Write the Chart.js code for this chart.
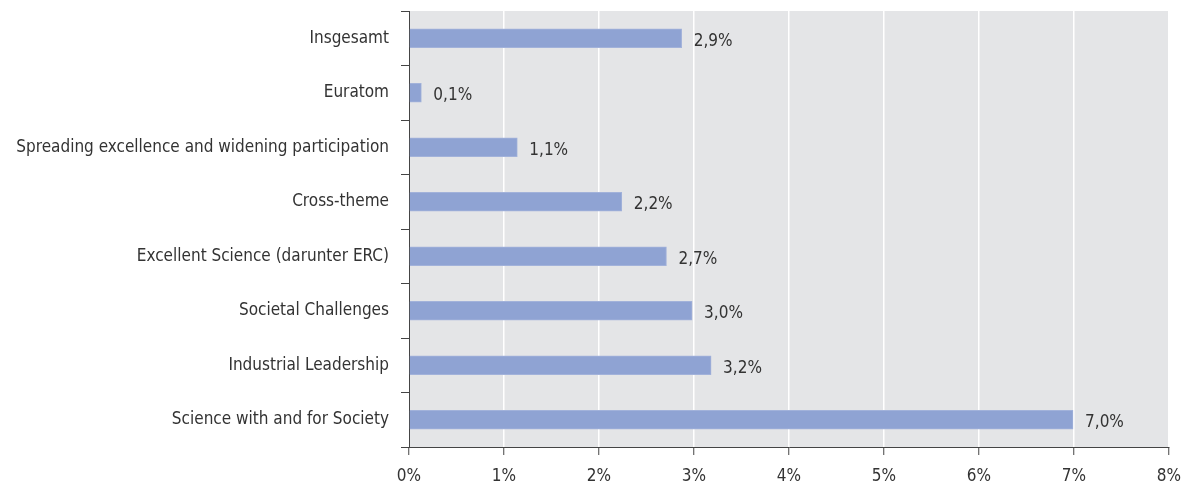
<!DOCTYPE html>
<html lang="de">
<head>
    <meta charset="UTF-8">
    <title>Anteile</title>
    <script src="https://cdn.jsdelivr.net/npm/chart.js"></script>
    <style>
        html, body { margin: 0; padding: 0; background: #fff; }
        #wrap { width: 1191px; height: 489px; }
    </style>
</head>
<body>
    <div id="wrap"><canvas id="chart"></canvas></div>
    <script>
        const categories = [
            "Insgesamt",
            "Euratom",
            "Spreading excellence and widening participation",
            "Cross-theme",
            "Excellent Science (darunter ERC)",
            "Societal Challenges",
            "Industrial Leadership",
            "Science with and for Society"
        ];
        const shares = [2.87, 0.13, 1.14, 2.24, 2.71, 2.98, 3.18, 6.99];
        const xTicks = [0, 1, 2, 3, 4, 5, 6, 7, 8];

        const FONT = "'Liberation Sans Narrow', 'DejaVu Sans Condensed', sans-serif";
        const fmt = v => v.toFixed(1).replace(".", ",") + "%";

        // grey plot background
        const plotBg = {
            id: "plotBg",
            beforeDraw(chart) {
                const a = chart.chartArea, ctx = chart.ctx;
                ctx.save();
                ctx.fillStyle = "#e4e5e7";
                ctx.fillRect(a.left, a.top, a.right - a.left, a.bottom - a.top);
                ctx.restore();
            }
        };

        // value labels right of each bar
        const valueLabels = {
            id: "valueLabels",
            afterDatasetsDraw(chart) {
                const ctx = chart.ctx;
                ctx.save();
                ctx.font = "17px " + FONT;
                ctx.fillStyle = "#333";
                ctx.textBaseline = "middle";
                chart.getDatasetMeta(0).data.forEach((bar, i) => {
                    ctx.fillText(fmt(shares[i]), bar.x + 12, bar.y + 3);
                });
                ctx.restore();
            }
        };

        new Chart(document.getElementById("chart"), {
            type: "bar",
            data: {
                labels: categories,
                datasets: [{
                    data: shares,
                    backgroundColor: "#8fa3d3",
                    borderColor: "#a2b2da",
                    borderWidth: 1,
                    barThickness: 19
                }]
            },
            options: {
                indexAxis: "y",
                responsive: true,
                maintainAspectRatio: false,
                animation: false,
                layout: { padding: { top: 11, right: 22, left: 0, bottom: 0 } },
                plugins: { legend: { display: false }, tooltip: { enabled: false } },
                scales: {
                    x: {
                        min: 0, max: 8,
                        afterBuildTicks: s => { s.ticks = xTicks.map(v => ({ value: v })); },
                        afterFit: s => { s.height = 42; s.paddingLeft = 0; s.paddingRight = 0; },
                        ticks: {
                            callback: v => v + "%",
                            color: "#333",
                            padding: 11,
                            font: { family: FONT, size: 17 }
                        },
                        grid: { color: "#fff", lineWidth: 1.5, tickLength: 8, tickColor: "#444", tickWidth: 1 },
                        border: { color: "#444", width: 1 }
                    },
                    y: {
                        afterFit: s => { s.width = 409; s.paddingTop = 0; s.paddingBottom = 0; },
                        ticks: { color: "#333", padding: 12, font: { family: FONT, size: 17 } },
                        grid: { drawOnChartArea: false, tickLength: 8, tickColor: "#444", offset: true },
                        border: { color: "#444", width: 1 }
                    }
                }
            },
            plugins: [plotBg, valueLabels]
        });
    </script>
</body>
</html>
